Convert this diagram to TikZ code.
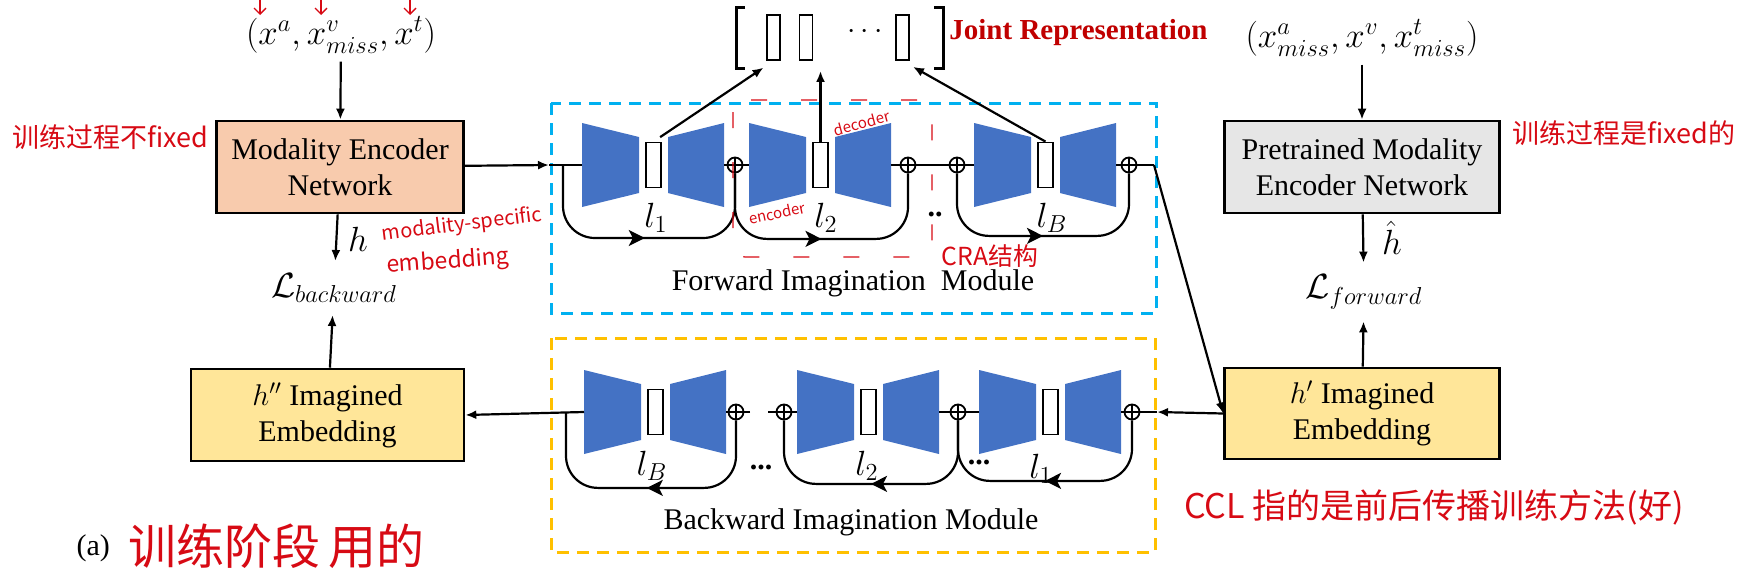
\RequirePackage{fix-cm}
\documentclass[tikz,border=0pt]{standalone}
\usepackage{fontspec}
\setmainfont{Liberation Serif}
\newfontfamily\cjk{Noto Sans CJK SC}
\usetikzlibrary{calc,arrows.meta,decorations.markings}
\definecolor{craBlue}{HTML}{4472C4}
\definecolor{peach}{HTML}{F8CBAD}
\definecolor{grayfill}{HTML}{E6E6E6}
\definecolor{imgYellow}{HTML}{FFE699}
\definecolor{fwdCyan}{HTML}{00B0F0}
\definecolor{bwdOrange}{HTML}{FFC000}
\definecolor{jointRed}{HTML}{C00000}
\definecolor{handRed}{RGB}{215,10,20}
\tikzset{
	flow/.style={line width=1.1pt},
	arr/.style={line width=1.1pt,-{Latex[length=5.5pt,width=4.5pt]}},
	block/.style={draw,line width=1.3pt,align=center,inner sep=0pt,font=\fontsize{15}{18}\selectfont},
	latent/.style={draw,fill=white,line width=0.9pt,minimum width=7.5pt,minimum height=22.5pt,inner sep=0pt},
	slot/.style={draw,line width=0.9pt,minimum width=6.5pt,minimum height=22.5pt,inner sep=0pt},
	oplus/.style={circle,draw,line width=0.9pt,minimum size=7.5pt,inner sep=0pt,
		path picture={\draw[line width=0.9pt] (path picture bounding box.north) -- (path picture bounding box.south)
			(path picture bounding box.west) -- (path picture bounding box.east);}},
	skipline/.style={line width=1.1pt,rounded corners=16pt,postaction={decorate},
		decoration={markings,mark=at position .5 with {\arrow{Stealth[length=8pt,width=8pt,inset=2pt]}}}},
	module/.style={line width=1.5pt,dash pattern=on 6pt off 4pt},
	lbl/.style={font=\fontsize{15}{18}\selectfont},
	mlbl/.style={font=\fontsize{17.5}{20}\selectfont,inner sep=1pt},
	hand/.style={text=handRed,font=\cjk\fontsize{13.5}{16}\selectfont},
}
% one encoder / latent / decoder unit: left x, centre y, name
\def\craunit(#1,#2)#3{%
	\fill[craBlue] (#1,#2-42) -- (#1+57,#2-28) -- (#1+57,#2+28) -- (#1,#2+42) -- cycle;
	\fill[craBlue] (#1+86,#2-28) -- (#1+142,#2-42) -- (#1+142,#2+42) -- (#1+86,#2+28) -- cycle;
	\node[latent] (#3) at (#1+71.5,#2) {};
	\coordinate (#3in) at (#1,#2);
	\coordinate (#3out) at (#1+142,#2);
}

\begin{document}
\begin{tikzpicture}[x=0.5pt,y=-0.5pt]
		%%%%% START %%%%%
		\useasboundingbox (0,0) rectangle (1755,568);
		
		\node[mlbl] (inA) at (341,35) {$(x^a, x^v_{miss}, x^t)$};
		\node[block,fill=peach,minimum width=123.5pt,minimum height=46pt] (menc) at (340,167) {Modality Encoder\\Network};
		\node[mlbl] (lossB) at (334,288) {$\mathcal{L}_{backward}$};
		\node[mlbl,inner sep=0pt] (hlab) at (358,239) {$h$};
		\node[block,fill=imgYellow,minimum width=136.5pt,minimum height=46pt] (himgL) at (327.5,415) {$h''$ Imagined\\Embedding};
		
		\node[mlbl] (inB) at (1362,38) {$(x^a_{miss}, x^v, x^t_{miss})$};
		\node[block,fill=grayfill,minimum width=137.5pt,minimum height=46pt] (penc) at (1362,167) {Pretrained Modality\\Encoder Network};
		\node[mlbl] (lossF) at (1364,292) {$\mathcal{L}_{forward}$};
		\node[mlbl,inner sep=0pt] (hhat) at (1392,238) {$\hat{h}$};
		\node[block,fill=imgYellow,minimum width=137.5pt,minimum height=45.5pt] (himg) at (1362,413.5) {$h'$ Imagined\\Embedding};
		
		\draw[arr,shorten <=3pt] (inA) -- (menc);
		\draw[arr,shorten >=5pt] (menc) -- (lossB);
		\draw[arr,shorten >=5pt] (himgL) -- (lossB);
		\draw[arr,shorten <=3pt] (inB) -- (penc);
		\draw[arr,shorten >=5pt] (penc) -- (lossF);
		\draw[arr,shorten >=5pt] (himg) -- (lossF);
		
		% joint representation
		\node[slot] (c1) at (773.5,37.5) {};
		\node[slot] (c2) at (806,37.5) {};
		\node[slot] (cB) at (902.5,37.5) {};
		\node[lbl] (cdots) at (865,32) {$\cdots$};
		\draw[line width=1.5pt] (745,7) -| (736,68) -- (745,68);
		\draw[line width=1.5pt] (934,7) -| (943,68) -- (934,68);
		\node[font=\bfseries\fontsize{14.5}{17}\selectfont,text=jointRed,anchor=west,inner sep=0pt] (jr) at (949,33) {Joint Representation};
		
		% forward imagination module
		\draw[module,draw=fwdCyan] (551,103) rectangle (1156,313);
		\craunit(582,165){z1}
		\craunit(749,165){z2}
		\craunit(974,165){zB}
		\node[oplus] (f1) at (735,165) {};
		\node[oplus] (f2) at (908,165) {};
		\node[oplus] (f3) at (957,165) {};
		\node[oplus] (fE) at (1129,165) {};
		\coordinate (fstart) at (549,165);
		\coordinate (fbranch) at (563,165);
		\coordinate (fturn) at (1154,165);
		
		\draw[arr] (menc) -- (fstart);
		\draw[flow] (fstart) -- (z1in);
		\draw[flow] (z1out) -- (f1) -- (z2in);
		\draw[flow] (z2out) -- (f2) -- (f3) -- (zBin);
		\draw[flow] (zBout) -- (fE) -- (fturn);
		\draw[arr] (fturn) -- (himg.west);
		
		\draw[skipline] (fbranch) -- ++(0,73) -| (f1.south);
		\draw[skipline] (f1.south) -- ++(0,65.5) -| (f2.south);
		\draw[skipline] (f3.south) -- ++(0,62.5) -| (fE.south);
		
		\draw[arr,shorten <=4pt,shorten >=6pt] (z1.north) -- (c1.south);
		\draw[arr,shorten >=5pt] (z2.north) -- (z2.north |- c2.south);
		\draw[arr,shorten >=6pt] (zB.north) -- (cB.south);
		
		\node[mlbl] (l1f) at (656,218) {$l_1$};
		\node[mlbl] (l2f) at (826,218) {$l_2$};
		\node[mlbl] (lBf) at (1052,218) {$l_B$};
		\node[lbl] (fdots) at (935,214) {\textbf{..}};
		\node[lbl] (fwdlab) at (853,283) {Forward Imagination~ Module};
		
		% backward imagination module
		\draw[module,draw=bwdOrange] (551,338) rectangle (1155,552);
		\craunit(584,412){yB}
		\craunit(797,412){y2}
		\craunit(979,412){y1}
		\node[oplus] (b1) at (736,412) {};
		\node[oplus] (b2) at (784,412) {};
		\node[oplus] (b3) at (958,412) {};
		\node[oplus] (b4) at (1132,412) {};
		\coordinate (bstart) at (1157,412);
		\coordinate (bbranch) at (566,412);
		\coordinate (bgapL) at (768,412);
		\coordinate (bgapR) at (750,412);
		
		\draw[arr] (himg.west) -- (bstart);
		\draw[flow] (bstart) -- (b4) -- (y1out);
		\draw[flow] (y1in) -- (b3) -- (y2out);
		\draw[flow] (y2in) -- (b2) -- (bgapL);
		\draw[flow] (bgapR) -- (b1) -- (yBout);
		\draw[arr] (yBin) -- (himgL.east);
		
		\draw[skipline] (b4.south) -- ++(0,60.5) -| (b3.south);
		\draw[skipline] (b3.south) -- ++(0,63.5) -| (b2.south);
		\draw[skipline] (b1.south) -- ++(0,67.5) -| (bbranch);
		
		\node[mlbl] (lBb) at (652,466) {$l_B$};
		\node[mlbl] (l2b) at (867,466) {$l_2$};
		\node[mlbl] (l1b) at (1041,469) {$l_1$};
		\node[lbl] (bdots1) at (761,467) {\textbf{...}};
		\node[lbl] (bdots2) at (979,462) {\textbf{...}};
		\node[lbl] (bwdlab) at (851,522) {Backward Imagination Module};
		
		\node[lbl,anchor=east] (cap) at (117,548) {(a)};
		
		% handwritten notes
		\node[hand,font=\cjk\fontsize{24}{28}\selectfont,anchor=west] (capnote) at (121,546) {训练阶段\,用的};
		\node[hand] (n1) at (110,137) {训练过程不fixed};
		\node[hand] (n2) at (1624,133) {训练过程是fixed的};
		\node[hand,font=\cjk\fontsize{17}{20}\selectfont] (n3) at (1434,507) {CCL 指的是前后传播训练方法(好)};
		\node[hand,font=\cjk\fontsize{10}{12}\selectfont,rotate=7,inner sep=0pt] (n4) at (462,225) {modality-specific};
		\node[hand,font=\cjk\fontsize{11.5}{13}\selectfont,rotate=4,inner sep=0pt] (n5) at (448,262) {embedding};
		\node[hand,font=\cjk\fontsize{7.5}{9}\selectfont,rotate=15] (n6) at (862,123) {decoder};
		\node[hand,font=\cjk\fontsize{7.5}{9}\selectfont,rotate=12] (n7) at (777,213) {encoder};
		\node[hand,font=\cjk\fontsize{12.4}{14}\selectfont,inner sep=0pt] (n8) at (990,256) {CRA结构};
		\draw[handRed,line width=0.6pt,dash pattern=on 8pt off 17pt,rounded corners=6pt] (733,100) rectangle (932,257);
		\draw[handRed,line width=0.7pt,-{Straight Barb[length=3pt]}] (260,-4) -- (260,15);
		\draw[handRed,line width=0.7pt,-{Straight Barb[length=3pt]}] (321,-4) -- (321,15);
		\draw[handRed,line width=0.7pt,-{Straight Barb[length=3pt]}] (410,-4) -- (410,15);
		
		%%%%% END %%%%%
	\end{tikzpicture}
\end{document}
